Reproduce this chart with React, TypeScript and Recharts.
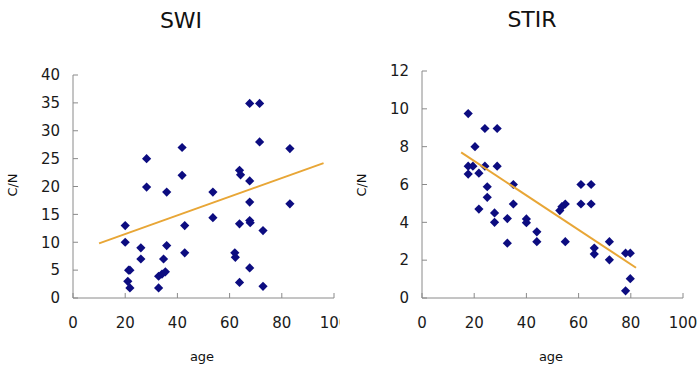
import { ScatterChart, Scatter, XAxis, YAxis } from 'recharts';

// SWI panel
const swiAge = [20, 20, 21.3, 21.8, 21, 21.8, 26, 26, 28.2, 28.2, 35.9, 35.9, 34.7, 32.8, 34.1, 35.4, 32.8, 41.8, 41.8, 42.8, 42.8, 53.6, 53.6, 63.8, 64.2, 67.7, 67.7, 67.7, 71.5, 71.5, 83.1, 83.1, 63.8, 67.7, 67.9, 72.8, 62, 62.2, 67.7, 63.8, 72.8];
const swiCN = [13, 10, 5, 5, 3, 1.8, 9, 7, 25, 19.9, 19, 9.4, 7, 3.9, 4.3, 4.7, 1.8, 27, 22, 13, 8.1, 19, 14.4, 22.9, 22.1, 21, 17.2, 34.9, 34.9, 28, 26.8, 16.9, 13.3, 13.9, 13.5, 12.1, 8.1, 7.3, 5.4, 2.8, 2.1];
const swiTrendAge = [10, 96];
const swiTrendCN = [9.8, 24.2];

// STIR panel
const stirAge = [17.7, 20.3, 17.7, 19.5, 17.7, 21.8, 24.1, 24.1, 28.8, 28.8, 25, 25, 21.8, 27.8, 27.8, 32.7, 32.7, 35, 35, 40, 40, 44, 44, 52.8, 53.6, 54.9, 54.9, 60.9, 64.8, 60.9, 64.8, 66, 66, 71.8, 71.8, 78, 79.8, 79.8, 78];
const stirCN = [9.75, 8, 6.97, 6.97, 6.55, 6.6, 8.96, 6.97, 8.96, 6.97, 5.88, 5.32, 4.7, 4.5, 4.0, 4.2, 2.9, 6, 4.97, 4.18, 3.98, 3.5, 2.98, 4.62, 4.83, 4.97, 2.98, 6, 6, 4.97, 4.97, 2.64, 2.32, 2.98, 2.02, 2.37, 2.37, 1.02, 0.38];
const stirTrendAge = [15, 82];
const stirTrendCN = [7.7, 1.6];

const ageTicks = [0, 20, 40, 60, 80, 100];
const swiTicks = [0, 5, 10, 15, 20, 25, 30, 35, 40];
const stirTicks = [0, 2, 4, 6, 8, 10, 12];

const zip = (xs: number[], ys: number[]) => xs.map((age, i) => ({ age, cn: ys[i] }));

const FONT = '"DejaVu Sans", sans-serif';
const AXIS = '#8a8a8a';

const Diamond = (props: any) => {
  const { cx, cy } = props;
  const r = 4.6;
  return <polygon points={`${cx},${cy - r} ${cx + r},${cy} ${cx},${cy + r} ${cx - r},${cy}`} fill="#0c0c80" />;
};

interface PanelProps {
  title: string;
  left: number;
  width: number;
  top: number;
  right: number;
  titleX: number;
  titleY: number;
  yMax: number;
  yTicks: number[];
  points: { age: number; cn: number }[];
  trend: { age: number; cn: number }[];
}

function Panel({ title, left, width, top, right, titleX, titleY, yMax, yTicks, points, trend }: PanelProps) {
  return (
    <div style={{ position: 'absolute', left, top: 0, width, height: 370 }}>
      <ScatterChart width={width} height={370} margin={{ top, right, bottom: 42, left: 0 }}>
        <XAxis
          type="number"
          dataKey="age"
          domain={[0, 100]}
          ticks={ageTicks}
          interval={0}
          height={30}
          tickSize={-5}
          tickMargin={24}
          stroke={AXIS}
          tick={{ fill: '#1a1a1a', fontSize: 15, fontFamily: FONT }}
        />
        <YAxis
          type="number"
          dataKey="cn"
          domain={[0, yMax]}
          ticks={yTicks}
          interval={0}
          width={73}
          tickSize={-5}
          tickMargin={18}
          stroke={AXIS}
          tick={{ fill: '#1a1a1a', fontSize: 15, fontFamily: FONT }}
        />
        <Scatter data={points} shape={<Diamond />} isAnimationActive={false} />
        <Scatter
          data={trend}
          line={{ stroke: '#e8a636', strokeWidth: 2 }}
          shape={() => <g />}
          isAnimationActive={false}
        />
      </ScatterChart>
      <div style={{ position: 'absolute', left: titleX - 60 - left, top: titleY - 13, width: 120, height: 26, lineHeight: '26px', textAlign: 'center', fontFamily: FONT, fontSize: 22, color: '#111' }}>
        {title}
      </div>
      <div style={{ position: 'absolute', left: 13 - 30, top: 185 - 9, width: 60, height: 18, lineHeight: '18px', textAlign: 'center', fontFamily: FONT, fontSize: 13, color: '#111', transform: 'rotate(-90deg)' }}>
        C/N
      </div>
      <div style={{ position: 'absolute', left: 202 - 40, top: 358 - 10, width: 80, height: 18, lineHeight: '18px', textAlign: 'center', fontFamily: FONT, fontSize: 13, color: '#111' }}>
        age
      </div>
    </div>
  );
}

export default function App() {
  return (
    <div style={{ position: 'absolute', left: 0, top: 0, width: 698, height: 370, background: '#fff', overflow: 'hidden' }}>
      <Panel
        title="SWI"
        left={0}
        width={340}
        top={75}
        right={6}
        titleX={181}
        titleY={21}
        yMax={40}
        yTicks={swiTicks}
        points={zip(swiAge, swiCN)}
        trend={zip(swiTrendAge, swiTrendCN)}
      />
      <Panel
        title="STIR"
        left={349}
        width={349}
        top={71}
        right={15}
        titleX={532}
        titleY={20}
        yMax={12}
        yTicks={stirTicks}
        points={zip(stirAge, stirCN)}
        trend={zip(stirTrendAge, stirTrendCN)}
      />
    </div>
  );
}
